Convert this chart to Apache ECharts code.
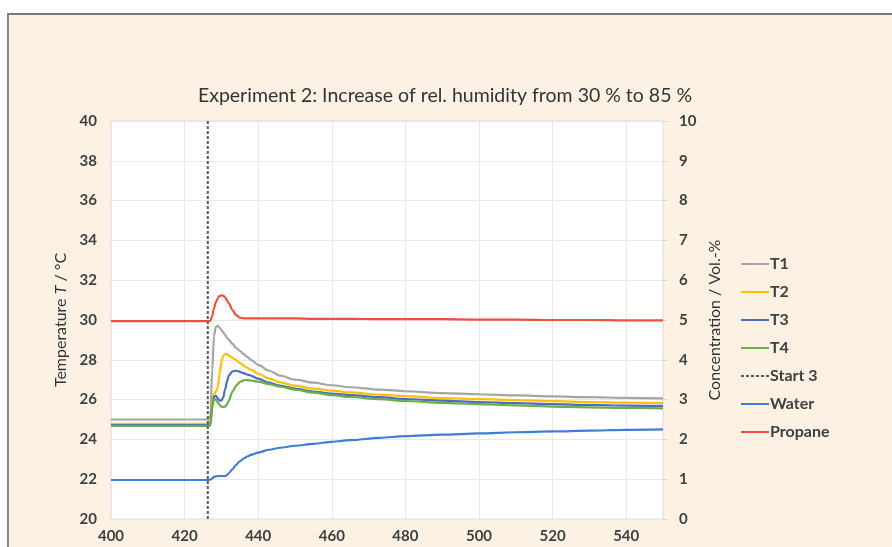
<!DOCTYPE html>
<html>
<head>
<meta charset="utf-8">
<script src="https://cdn.jsdelivr.net/npm/echarts@6/dist/echarts.min.js"></script>
<style>
  html, body { margin: 0; padding: 0; background: #ffffff; }
  #frame {
    position: absolute; left: 7px; top: 13px; width: 900px; height: 560px;
    background: #fdf1e4; border-top: 2px solid #7a7a7a; border-left: 2px solid #8a8a8a;
  }
  #chart { position: absolute; left: 0; top: 0; width: 892px; height: 547px; }
</style>
</head>
<body>
<div id="frame"></div>
<div id="chart"></div>
<script>
// Time axis (s) shared by all measured curves
const time = [400, 426.5, 427, 427.5, 428, 428.5, 429, 429.5, 430, 430.5, 431, 431.5, 432, 433, 434, 435, 436, 437, 438, 440, 443, 446, 450, 455, 460, 465, 473, 480, 490, 500, 510, 520, 530, 540, 550];

// Temperatures (°C)
const t1 = [25.0, 25.0, 25.2, 27.5, 29.2, 29.65, 29.7, 29.62, 29.5, 29.38, 29.25, 29.12, 29.0, 28.8, 28.6, 28.45, 28.3, 28.15, 28.0, 27.75, 27.45, 27.2, 27.0, 26.85, 26.72, 26.62, 26.5, 26.42, 26.33, 26.27, 26.21, 26.16, 26.12, 26.09, 26.06];
const t2 = [24.78, 24.78, 24.8, 26.0, 26.3, 26.4, 26.6, 27.3, 27.9, 28.2, 28.3, 28.28, 28.22, 28.1, 27.98, 27.85, 27.72, 27.6, 27.5, 27.3, 27.05, 26.87, 26.7, 26.55, 26.45, 26.36, 26.25, 26.17, 26.08, 26.02, 25.97, 25.92, 25.88, 25.85, 25.83];
const t3 = [24.72, 24.72, 24.75, 25.7, 26.15, 26.2, 26.05, 25.95, 25.95, 26.1, 26.5, 26.9, 27.2, 27.42, 27.45, 27.4, 27.33, 27.26, 27.2, 27.05, 26.85, 26.7, 26.55, 26.4, 26.3, 26.22, 26.12, 26.03, 25.95, 25.88, 25.82, 25.77, 25.73, 25.7, 25.68];
const t4 = [24.68, 24.68, 24.7, 25.6, 26.05, 26.0, 25.85, 25.75, 25.65, 25.62, 25.65, 25.75, 25.95, 26.4, 26.7, 26.88, 26.97, 26.98, 26.96, 26.9, 26.78, 26.65, 26.5, 26.35, 26.22, 26.13, 26.02, 25.93, 25.84, 25.77, 25.71, 25.65, 25.61, 25.58, 25.56];

// Concentrations (Vol.-%)
const water = [0.98, 0.98, 0.99, 1.02, 1.06, 1.07, 1.08, 1.08, 1.08, 1.08, 1.08, 1.1, 1.15, 1.25, 1.36, 1.45, 1.52, 1.57, 1.61, 1.67, 1.74, 1.79, 1.84, 1.89, 1.94, 1.98, 2.04, 2.08, 2.12, 2.15, 2.18, 2.2, 2.22, 2.24, 2.25];
const propane = [4.97, 4.97, 4.98, 5.1, 5.3, 5.45, 5.55, 5.6, 5.62, 5.61, 5.57, 5.5, 5.42, 5.25, 5.12, 5.06, 5.04, 5.04, 5.04, 5.04, 5.04, 5.04, 5.04, 5.03, 5.03, 5.03, 5.02, 5.02, 5.02, 5.01, 5.01, 5.0, 5.0, 4.99, 4.99];

// Start of humidity step
const start3Time = 426.3;
const start3Range = [20, 40];

const pairs = (ys) => time.map((t, i) => [t, ys[i]]);

const labelFont = { fontFamily: 'Lato', fontSize: 15, fontWeight: 'bold', color: '#404040' };

const lineSeries = (name, color, ys, axis) => ({
  name, type: 'line', yAxisIndex: axis, data: pairs(ys),
  symbol: 'none', smooth: 0.3, smoothMonotone: 'x',
  lineStyle: { color, width: 2.2 }, itemStyle: { color }, z: 3
});

const chart = echarts.init(document.getElementById('chart'), null, { renderer: 'canvas' });
chart.setOption({
  backgroundColor: 'transparent',
  animation: false,
  title: {
    text: 'Experiment 2: Increase of rel. humidity from 30 % to 85 %',
    left: 440, top: 81, textAlign: 'center',
    textStyle: { fontFamily: 'Lato', fontSize: 19.5, fontWeight: 'normal', color: '#333333' }
  },
  legend: {
    orient: 'vertical', left: 735, top: 251,
    itemWidth: 28, itemHeight: 14, itemGap: 12,
    itemStyle: { opacity: 0 },
    textStyle: { fontFamily: 'Lato', fontSize: 16, fontWeight: 'bold', color: '#404040', padding: [0, 0, 0, -4] },
    data: ['T1', 'T2', 'T3', 'T4', 'Start 3', 'Water', 'Propane']
  },
  grid: {
    left: 111, right: 229, top: 121, bottom: 28,
    show: true, backgroundColor: '#ffffff', borderColor: '#d9d9d9', borderWidth: 1
  },
  xAxis: {
    type: 'value', min: 400, max: 550, interval: 20,
    axisLine: { show: false }, axisTick: { show: false },
    axisLabel: Object.assign({ margin: 10, showMaxLabel: false }, labelFont),
    splitLine: { show: true, lineStyle: { color: '#e8e8e8', width: 1 } }
  },
  yAxis: [
    {
      type: 'value', min: 20, max: 40, interval: 2, position: 'left',
      name: 'Temperature {i|T} / °C', nameLocation: 'middle', nameGap: 40, nameRotate: 90,
      nameTextStyle: {
        fontFamily: 'Lato', fontSize: 16, color: '#333333',
        rich: { i: { fontFamily: 'Lato', fontSize: 16, fontStyle: 'italic', color: '#333333' } }
      },
      axisLine: { show: false }, axisTick: { show: false },
      axisLabel: Object.assign({ margin: 14 }, labelFont),
      splitLine: { show: true, lineStyle: { color: '#e8e8e8', width: 1 } }
    },
    {
      type: 'value', min: 0, max: 10, interval: 1, position: 'right',
      name: 'Concentration / Vol.-%', nameLocation: 'middle', nameGap: 39, nameRotate: 90,
      nameTextStyle: { fontFamily: 'Lato', fontSize: 16, color: '#333333' },
      axisLine: { show: false },
      axisTick: { show: true, length: 4, lineStyle: { color: '#d0d0d0' } },
      axisLabel: Object.assign({ margin: 16 }, labelFont),
      splitLine: { show: false }
    }
  ],
  series: [
    lineSeries('T1', '#a5a5a5', t1, 0),
    lineSeries('T2', '#ffc000', t2, 0),
    lineSeries('T3', '#4a6cc8', t3, 0),
    lineSeries('T4', '#6aae45', t4, 0),
    {
      name: 'Start 3', type: 'line', yAxisIndex: 0, symbol: 'none',
      data: start3Range.map(v => [start3Time, v]),
      lineStyle: { color: '#5a5a5a', width: 2, type: [3, 2] }, itemStyle: { color: '#5a5a5a' }, z: 4
    },
    lineSeries('Water', '#3f7ed3', water, 1),
    lineSeries('Propane', '#ee4f43', propane, 1)
  ]
});
</script>
</body>
</html>
